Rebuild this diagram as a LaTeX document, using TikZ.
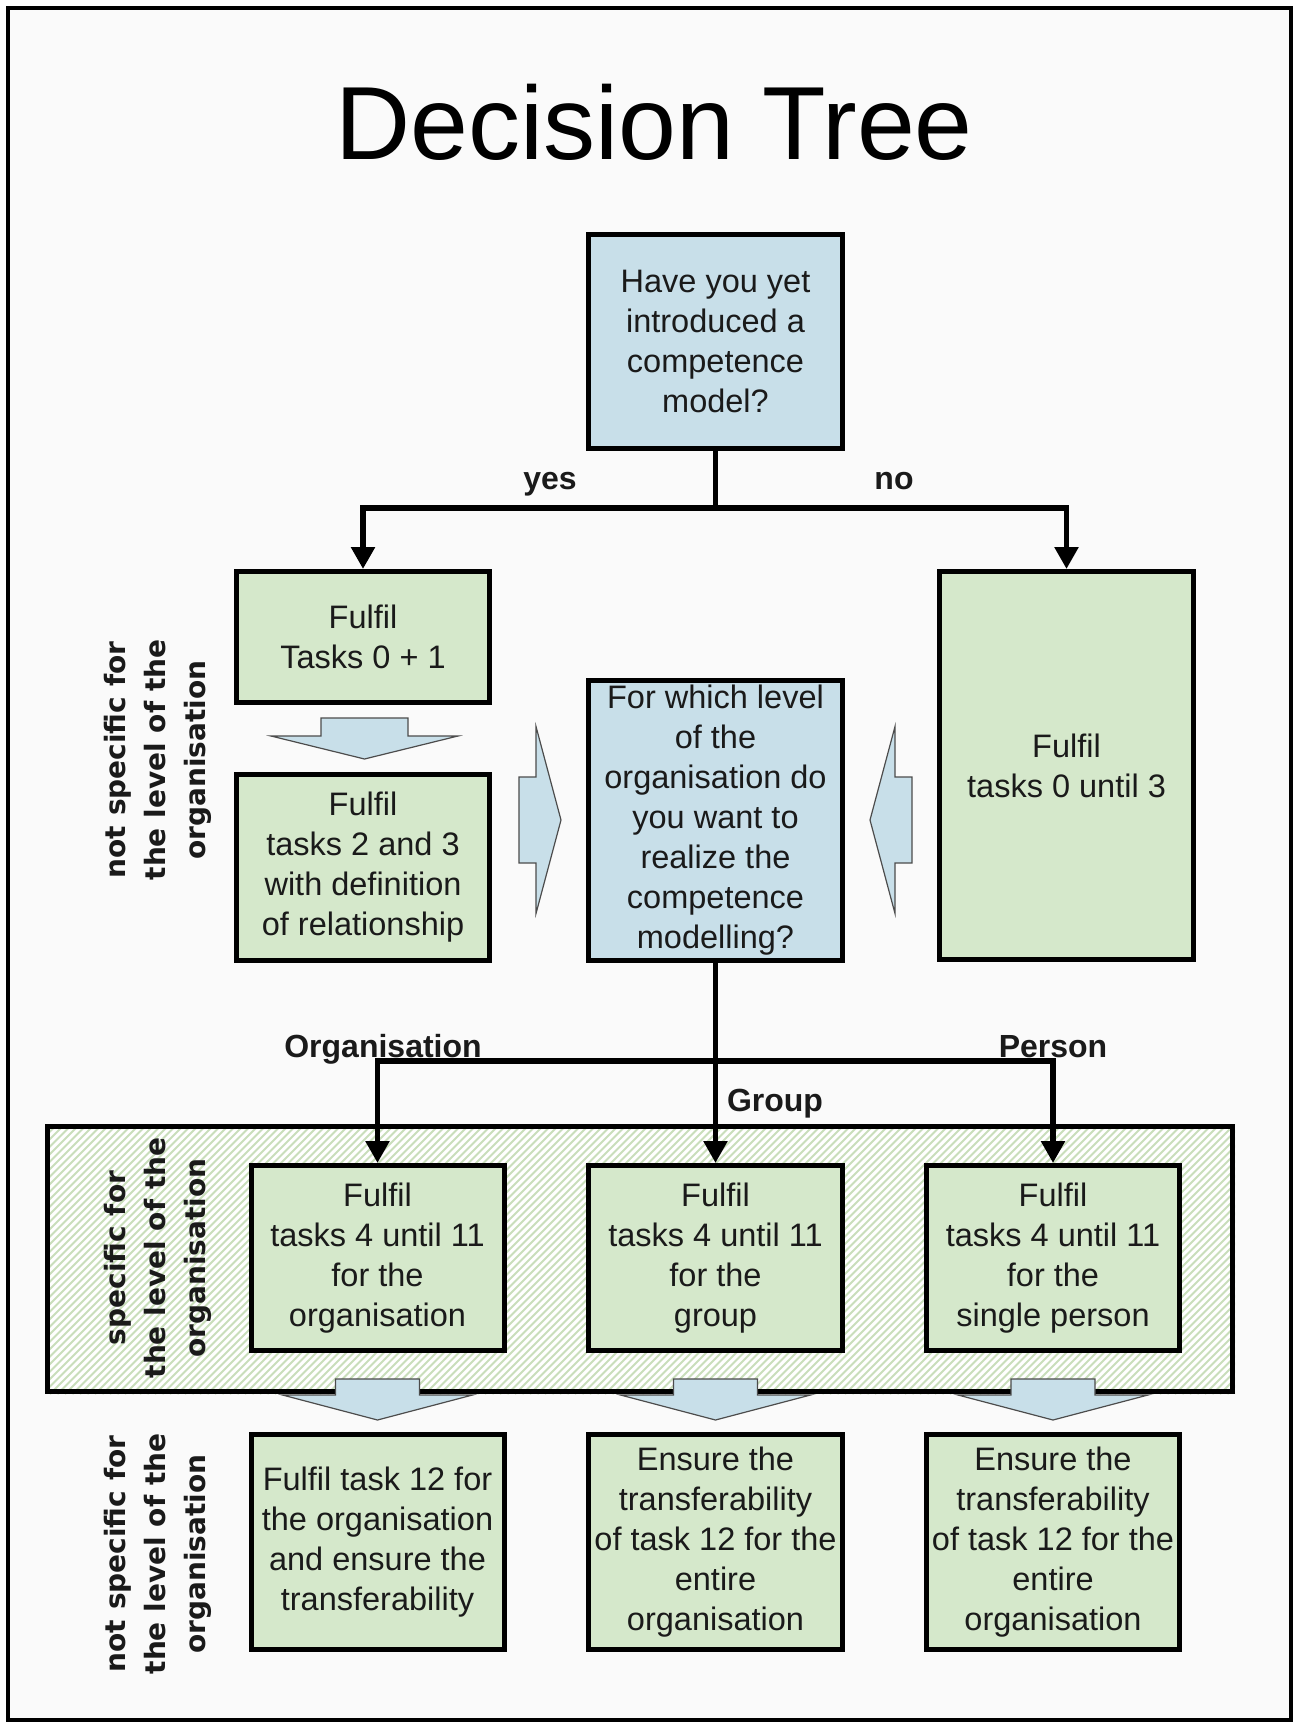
\documentclass[tikz,border=0pt]{standalone}
\usepackage{fontspec}
\setmainfont{Liberation Sans}
\newfontfamily\sidefont{DejaVu Sans}
\usetikzlibrary{arrows.meta}

\definecolor{boxgreen}{HTML}{D5E8CB}
\definecolor{boxblue}{HTML}{C8DFE9}
\definecolor{hatchgreen}{HTML}{C9DEBB}
\definecolor{paper}{HTML}{FAFAFA}
\definecolor{ink}{HTML}{1A1A1A}

% block arrow pointing down: centre x, shaft half width, head half width, shaft top, head base, tip
\newcommand\downblock[6]{%
  \draw[blockarrow] ({#1-#2},#4) -- ({#1+#2},#4) -- ({#1+#2},#5) -- ({#1+#3},#5)
    -- (#1,#6) -- ({#1-#3},#5) -- ({#1-#2},#5) -- cycle;}

\begin{document}
\begin{tikzpicture}[x=1pt,y=-1pt,
  box/.style={draw=black, line width=5pt, inner sep=0pt, align=center, text=ink,
    font=\fontsize{32.5}{40}\selectfont},
  greenbox/.style={box, fill=boxgreen},
  bluebox/.style={box, fill=boxblue},
  conn/.style={draw=black, line width=5.5pt, line join=miter},
  flowarrow/.style={conn, -{Triangle[width=23pt,length=22pt]}},
  blockarrow/.style={fill=boxblue, draw=black!70, line width=1.2pt, line join=miter},
  branchlabel/.style={anchor=base, inner sep=0pt, text=ink,
    font=\fontsize{32}{36}\bfseries\selectfont},
  sidelabel/.style={rotate=90, align=center, inner sep=0pt, text=ink,
    font=\sidefont\fontsize{28}{40}\bfseries\selectfont},
]
\useasboundingbox (0,0) rectangle (1300,1724);
\fill[white] (0,0) rectangle (1300,1724);
\draw[line width=4pt, fill=paper] (8,8) rectangle (1291,1720);

% title
\node[anchor=base, inner sep=0pt, font=\fontsize{104}{110}\selectfont] (title) at (654,159.5) {Decision Tree};

% hatched zone of the level-specific tasks
\fill[white] (45,1124) rectangle (1235,1394);
\begin{scope}
  \clip (45,1124) rectangle (1235,1394);
  \foreach \s in {-280,-272.5,...,1240}
    \draw[hatchgreen, line width=2pt] (\s,1394) -- ++(280,-280);
\end{scope}
\node[draw=black, line width=5pt, minimum width=1185, minimum height=265, inner sep=0pt] (zone) at (640,1259) {};

% boxes
\node[bluebox, minimum width=254, minimum height=214] (q1) at (715.5,341.5)
  {Have you yet\\introduced a\\competence\\model?};
\node[greenbox, minimum width=253, minimum height=131] (fa) at (363,637)
  {Fulfil\\Tasks 0 + 1};
\node[greenbox, minimum width=253, minimum height=186] (fb) at (363,867.5)
  {Fulfil\\tasks 2 and 3\\with definition\\of relationship};
\node[bluebox, minimum width=254, minimum height=280] (q2) at (715.5,820.5)
  {For which level\\of the\\organisation do\\you want to\\realize the\\competence\\modelling?};
\node[greenbox, minimum width=254, minimum height=388] (fc) at (1066.5,765.5)
  {Fulfil\\tasks 0 until 3};

\node[greenbox, minimum width=253, minimum height=185] (t1) at (377.5,1258)
  {Fulfil\\tasks 4 until 11\\for the\\organisation};
\node[greenbox, minimum width=254, minimum height=185] (t2) at (715.5,1258)
  {Fulfil\\tasks 4 until 11\\for the\\group};
\node[greenbox, minimum width=253, minimum height=185] (t3) at (1053,1258)
  {Fulfil\\tasks 4 until 11\\for the\\single person};

\node[greenbox, minimum width=253, minimum height=215] (b1) at (377.5,1542)
  {Fulfil task 12 for\\the organisation\\and ensure the\\transferability};
\node[greenbox, minimum width=254, minimum height=215] (b2) at (715.5,1542)
  {Ensure the\\transferability\\of task 12 for the\\entire\\organisation};
\node[greenbox, minimum width=253, minimum height=215] (b3) at (1053,1542)
  {Ensure the\\transferability\\of task 12 for the\\entire\\organisation};

% block arrows
\downblock{364.5}{43.5}{93.5}{718}{736}{759}
\draw[blockarrow] (519,777) -- (536,777) -- (536,726.5) -- (561,820)
  -- (536,913.5) -- (536,863) -- (519,863) -- cycle;
\draw[blockarrow] (912,777) -- (895,777) -- (895,726.5) -- (870,820)
  -- (895,913.5) -- (895,863) -- (912,863) -- cycle;
\downblock{377.5}{42}{95}{1379}{1395}{1420}
\downblock{715.5}{42}{95}{1379}{1395}{1420}
\downblock{1053}{42}{95}{1379}{1395}{1420}

% connectors
\coordinate (split1) at (715.5,508);
\coordinate (split2) at (715.5,1061);
\draw[conn] (q1.south) -- (split1);
\draw[flowarrow] (split1) -| (fa.north);
\draw[flowarrow] (split1) -| (fc.north);
\draw[conn] (q2.south) -- (split2);
\draw[flowarrow] (split2) -| (t1.north);
\draw[flowarrow] (split2) -- (t2.north);
\draw[flowarrow] (split2) -| (t3.north);

% branch labels
\node[branchlabel] (yes) at (550,489) {yes};
\node[branchlabel] (no) at (894,489) {no};
\node[branchlabel] (lorg) at (383,1057) {Organisation};
\node[branchlabel] (lgrp) at (775,1111) {Group};
\node[branchlabel] (lper) at (1053,1057) {Person};

% side labels
\node[sidelabel] (side1) at (158,760) {not specific for\\the level of the\\organisation};
\node[sidelabel] (side2) at (158,1258) {specific for\\the level of the\\organisation};
\node[sidelabel] (side3) at (158,1554) {not specific for\\the level of the\\organisation};
\end{tikzpicture}
\end{document}
